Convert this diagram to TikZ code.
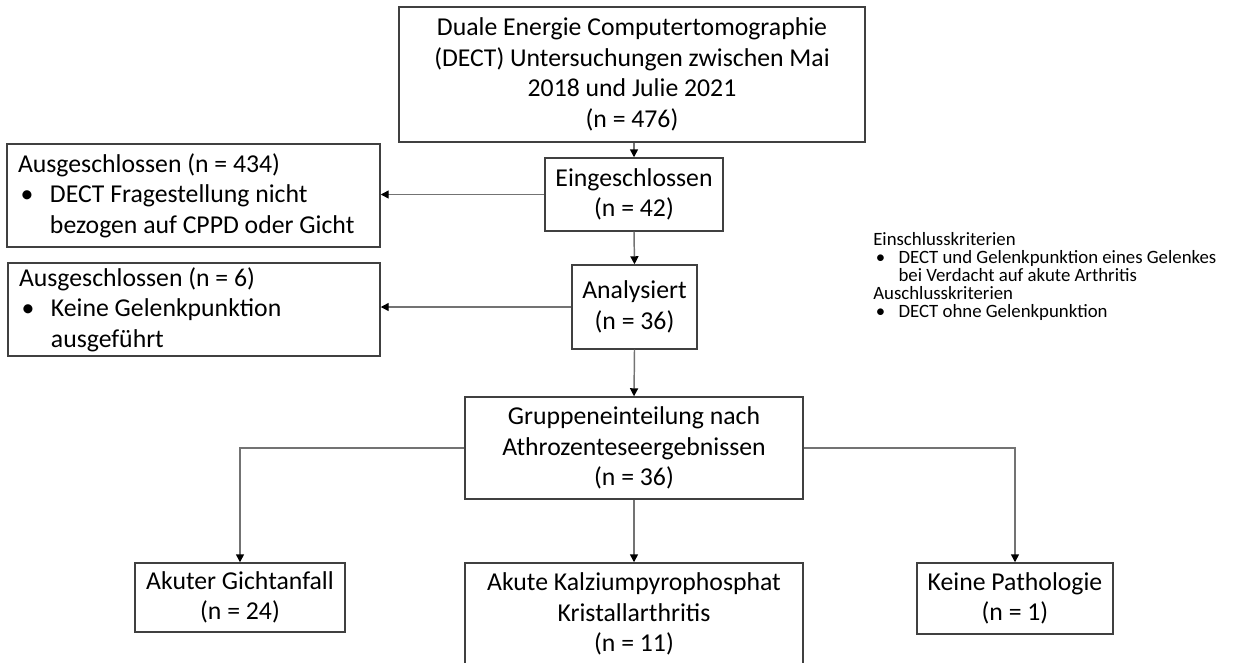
\documentclass[tikz,border=0pt]{standalone}
\usepackage{fontspec}
\setmainfont{Carlito}
\usetikzlibrary{arrows.meta}
\newcommand{\pxl}{0.75pt}
\newcommand{\bull}[1]{\makebox[#1][l]{\hspace{2pt}\textbullet}}
\tikzstyle{flowbox}=[rectangle, draw=black!75, line width=1.1pt, align=center, inner sep=0pt, font=\fontsize{19.3}{22.8}\selectfont]
\tikzstyle{exclbox}=[rectangle, draw=black!75, line width=1.1pt, align=flush left, inner xsep=8.25pt, inner ysep=0pt, font=\fontsize{19.3}{22.8}\selectfont]
\tikzstyle{link}=[draw=black!55, line width=1.1pt, -{Triangle[length=6pt, width=6pt, color=black]}]

\begin{document}
\begin{tikzpicture}[x=0.75pt, y=-0.75pt]
\useasboundingbox (0,0) rectangle (1254,662);
% main column
\node[flowbox, minimum width=466*\pxl, minimum height=135*\pxl, text depth=3pt] (dect) at (632,74.5) {Duale Energie Computertomographie\\(DECT) Untersuchungen zwischen Mai\\2018 und Julie 2021\\(n = 476)};
\node[flowbox, minimum width=178*\pxl, minimum height=73*\pxl] (ein) at (634,194.5) {Eingeschlossen\\(n = 42)};
\node[flowbox, minimum width=125*\pxl, minimum height=84*\pxl] (ana) at (634.5,307) {Analysiert\\(n = 36)};
\node[flowbox, minimum width=338*\pxl, minimum height=102*\pxl] (grp) at (634,448) {Gruppeneinteilung nach\\Athrozenteseergebnissen\\(n = 36)};
% excluded
\node[exclbox, text width=351*\pxl, minimum height=103*\pxl] (aus1) at (193.5,195.5) {Ausgeschlossen (n = 434)\\\bull{24pt}DECT Fragestellung nicht\\\hspace*{24pt}bezogen auf CPPD oder Gicht};
\node[exclbox, text width=350*\pxl, minimum height=93*\pxl] (aus2) at (194,309.5) {Ausgeschlossen (n = 6)\\\bull{24pt}Keine Gelenkpunktion\\\hspace*{24pt}ausgeführt};
% criteria
\node[anchor=north west, align=flush left, inner sep=0pt, font=\fontsize{14.1}{13.6}\selectfont] (crit) at (873,232) {Einschlusskriterien\\\bull{19pt}DECT und Gelenkpunktion eines Gelenkes\\\hspace*{19pt}bei Verdacht auf akute Arthritis\\Auschlusskriterien\\\bull{19pt}DECT ohne Gelenkpunktion};
% groups
\node[flowbox, minimum width=210*\pxl, minimum height=69*\pxl] (gicht) at (240,597.5) {Akuter Gichtanfall\\(n = 24)};
\node[flowbox, minimum width=338*\pxl, minimum height=102*\pxl] (cppd) at (634,614) {Akute Kalziumpyrophosphat\\Kristallarthritis\\(n = 11)};
\node[flowbox, minimum width=196*\pxl, minimum height=71*\pxl] (keine) at (1015,598.5) {Keine Pathologie\\(n = 1)};
% connectors
\draw[link] (ein.north |- dect.south) -- (ein.north);
\draw[link] (ein.west) -- (ein.west -| aus1.east);
\draw[link] (ein.south) -- (ana.north);
\draw[link] (ana.west) -- (ana.west -| aus2.east);
\draw[link] (ana.south) -- (grp.north);
\draw[link] (grp.west) -| (gicht.north);
\draw[link] (grp.east) -| (keine.north);
\draw[link] (grp.south) -- (cppd.north);
\end{tikzpicture}
\end{document}
